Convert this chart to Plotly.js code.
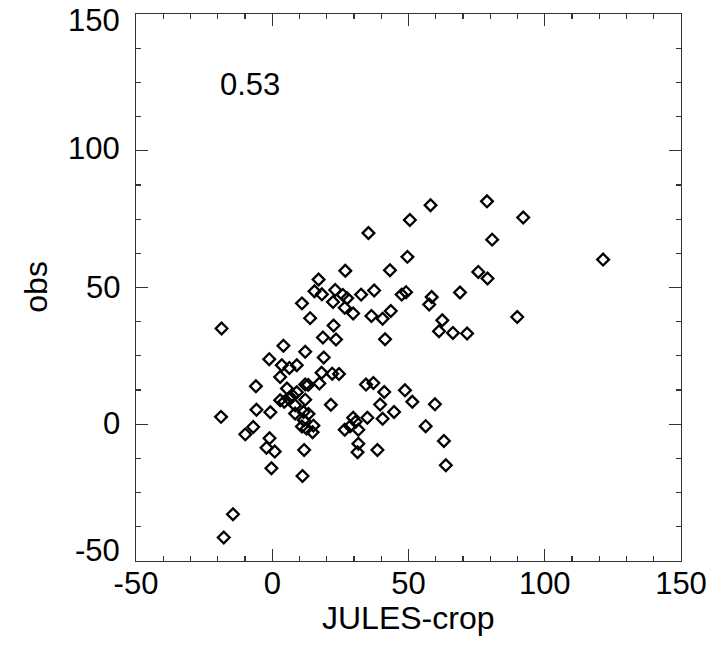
<!DOCTYPE html>
<html>
<head>
<meta charset="utf-8">
<script src="https://cdn.plot.ly/plotly-3.0.1.min.js"></script>
<style>html,body{margin:0;padding:0;background:#fff;}#chart{width:720px;height:652px;}</style>
</head>
<body>
<div id="chart"></div>
<script>
var julesCrop = [58.1,78.8,92.1,50.5,35.3,80.7,49.6,43.2,75.6,79.0,32.6,37.4,47.5,49.1,58.5,57.6,68.9,36.4,40.5,43.5,89.9,62.4,61.2,66.3,71.5,41.4,121.4,26.8,17.0,15.5,18.2,23.1,25.9,27.5,10.9,22.3,26.6,29.7,13.9,-18.6,22.5,18.6,23.4,4.1,12.1,-1.1,18.9,3.5,6.3,9.0,2.9,18.1,22.0,24.5,-6.0,5.4,12.1,13.2,17.3,34.4,37.1,41.1,48.7,9.0,2.9,4.4,6.0,7.5,12.1,21.5,8.4,51.4,59.7,39.6,-5.8,-0.7,8.4,11.5,13.3,-18.8,11.6,34.9,40.5,44.7,10.9,12.6,15.1,14.8,-7.0,-9.9,29.7,30.6,28.6,26.6,31.6,31.6,31.3,56.3,63.0,63.7,38.6,-1.0,-2.1,0.9,11.7,-0.3,11.1,-14.4,-17.8];
var obsVals = [80.1,81.5,75.6,74.7,69.9,67.5,61.2,56.3,55.7,53.3,47.4,48.9,47.4,48.3,46.5,43.8,48.2,39.6,38.6,41.4,39.2,38.0,34.0,33.4,33.2,31.1,60.2,56.1,52.9,48.6,47.5,49.1,47.3,46.1,44.2,44.7,42.6,40.5,38.8,35.0,36.1,31.7,31.0,28.7,26.5,23.8,24.4,21.6,20.6,21.6,17.3,18.8,18.5,18.4,13.9,13.1,14.5,14.4,14.9,14.5,15.1,11.8,12.4,11.7,8.8,8.2,9.4,10.4,9.0,7.1,6.9,8.2,7.3,7.2,5.3,4.4,3.9,4.5,3.8,2.7,1.5,2.4,2.0,4.5,-0.8,-1.6,-0.5,-2.9,-1.0,-3.7,2.4,0.9,-0.7,-2.0,-2.0,-7.1,-10.2,-0.7,-6.1,-15.0,-9.4,-5.1,-8.6,-10.0,-9.4,-16.1,-18.9,-32.9,-41.4];
var tickValues = [-50, 0, 50, 100, 150];
var tickLabels = ["-50", "0", "50", "100", "150"];
var corrLabel = "0.53";
var xTitle = "JULES-crop";
var yTitle = "obs";

var font = {family: "Liberation Sans, Arial, sans-serif", size: 31, color: "#000"};
var titleFont = {family: "Liberation Sans, Arial, sans-serif", size: 32, color: "#000"};
var axisCommon = {
  range: [-50, 150], tickmode: "array", tickvals: tickValues, ticktext: tickLabels,
  ticks: "inside", ticklen: 12, tickwidth: 1.2, tickcolor: "#333",
  showline: true, linecolor: "#333", linewidth: 1.2, mirror: "ticks",
  showgrid: false, zeroline: false, tickfont: font, fixedrange: true,
  ticklabeloverflow: "allow"
};
var xaxis = Object.assign({}, axisCommon, {
  ticklabelstandoff: -5,
  minor: {ticks: "inside", ticklen: 5, tickwidth: 1.2, tickcolor: "#333", showgrid: false, dtick: 10, tick0: 0}
});
var yaxis = Object.assign({}, axisCommon, {
  showticklabels: false,
  minor: {ticks: "inside", ticklen: 5, tickwidth: 1.2, tickcolor: "#333", showgrid: false, dtick: 12.5, tick0: 0}
});

// y tick labels placed on the y scale (nudged like the reference's end labels)
var yShift = {"-50": 11, "0": 1, "50": 0, "100": 2, "150": -6};
var annotations = tickValues.map(function (v, i) {
  return {text: tickLabels[i], xref: "paper", yref: "y", x: -0.025, y: v, xanchor: "right", yanchor: "middle",
          yshift: yShift[String(v)], showarrow: false, font: font};
});
annotations.push(
  {text: corrLabel, xref: "x", yref: "y", x: -19.8, y: 124.3, xanchor: "left", yanchor: "middle", showarrow: false, font: font},
  {text: xTitle, xref: "paper", yref: "paper", x: 0.5, y: -0.104, xanchor: "center", yanchor: "middle", showarrow: false, font: titleFont},
  {text: yTitle, xref: "paper", yref: "paper", x: -0.184, y: 0.501, xanchor: "center", yanchor: "middle", textangle: -90, showarrow: false, font: titleFont}
);

Plotly.newPlot("chart", [{
  x: julesCrop, y: obsVals, type: "scatter", mode: "markers",
  marker: {symbol: "diamond-open", size: 9, color: "#000", line: {width: 2.3, color: "#000"}},
  hoverinfo: "skip"
}], {
  width: 720, height: 652,
  margin: {l: 135.5, r: 38.5, t: 14, b: 91},
  paper_bgcolor: "#fff", plot_bgcolor: "#fff",
  showlegend: false,
  xaxis: xaxis, yaxis: yaxis,
  annotations: annotations
}, {staticPlot: true});
</script>
</body>
</html>
